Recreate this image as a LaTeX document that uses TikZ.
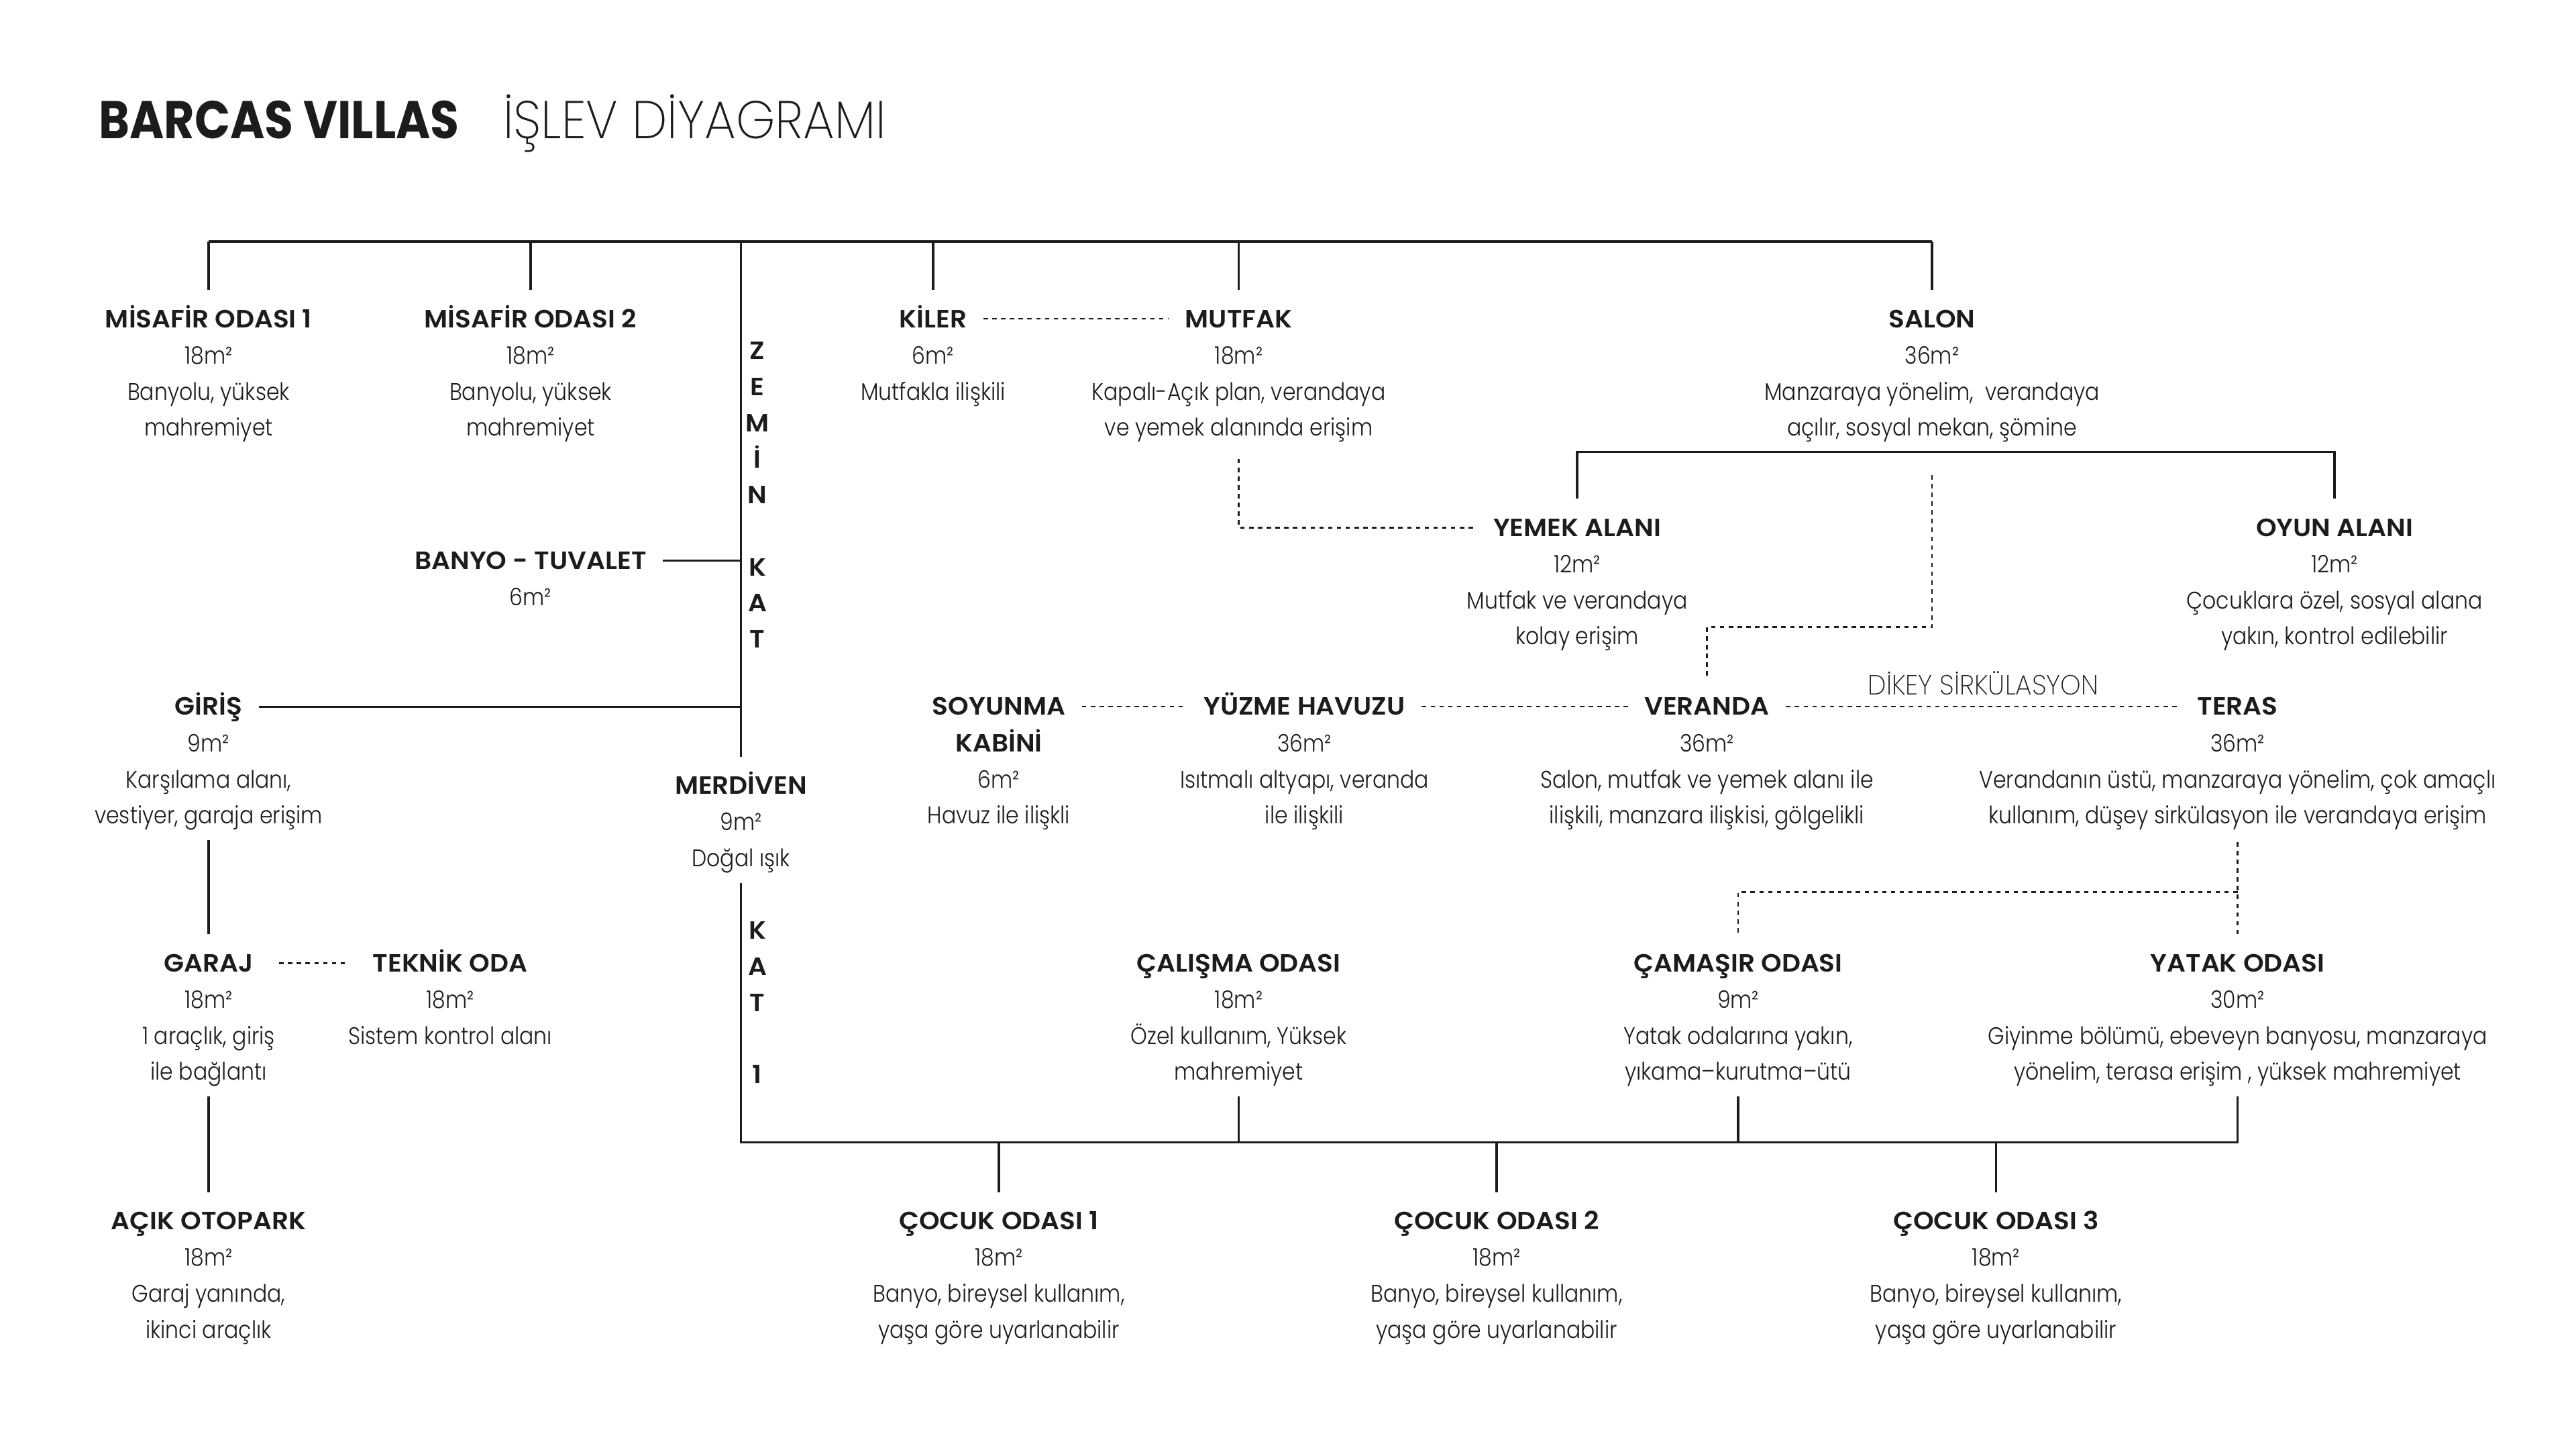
\documentclass[tikz,border=0pt]{standalone}
\usepackage{fontspec}
\setmainfont{Poppins Light}
\newfontfamily\headfont{Poppins SemiBold}[FakeStretch=1.05]
\newfontfamily\bodyfont{Poppins Light}[FakeStretch=0.88]
\newfontfamily\titlebold{Poppins Bold}[FakeStretch=0.88]
\newfontfamily\titlelight{Poppins ExtraLight}[FakeStretch=0.94]
\usetikzlibrary{calc}
\definecolor{ink}{HTML}{1C1C1C}
\newcommand\room[4]{%
  \node[head] (#1) at (#2) {#3};
  \node[info] (#1-i) at ([yshift=-5.6pt]#1.base) {\rule{0pt}{10pt}#4};}

\begin{document}
\begin{tikzpicture}[x=0.25mm, y=-0.25mm,
  head/.style={font=\headfont\fontsize{10.8}{15.6}\selectfont, text=ink,
    text height=7.5pt, text depth=0pt, inner xsep=7pt, inner ysep=0pt},
  info/.style={font=\bodyfont\fontsize{10.4}{15.6}\selectfont, text=ink,
    align=center, inner sep=0pt, anchor=north},
  floor/.style={font=\headfont\fontsize{10.8}{15.6}\selectfont, text=ink,
    align=center, inner sep=0pt, anchor=base},
  link/.style={draw=ink, line width=0.9pt},
  dots/.style={draw=ink, line width=0.8pt, dash pattern=on 1.9pt off 1.9pt}]
  \fill[white] (0,0) rectangle (1568,882);
  \useasboundingbox (0,0) rectangle (1568,882);

  \node[anchor=base west, inner sep=0pt, text=ink, font=\titlebold\fontsize{23}{23}\selectfont]
    (title) at (60,84.5) {BARCAS VILLAS};
  \node[anchor=base west, inner sep=0pt, text=ink, font=\titlelight\fontsize{23}{23}\selectfont]
    (subtitle) at (306,84.5) {İŞLEV DİYAGRAMI};

  % zemin kat
  \room{mis1}{127,194}{MİSAFİR ODASI 1}{18m²\\Banyolu, yüksek\\mahremiyet}
  \room{mis2}{323,194}{MİSAFİR ODASI 2}{18m²\\Banyolu, yüksek\\mahremiyet}
  \room{kiler}{568,194}{KİLER}{6m²\\Mutfakla ilişkili}
  \room{mutfak}{754,194}{MUTFAK}{18m²\\Kapalı-Açık plan, verandaya\\ve yemek alanında erişim}
  \room{salon}{1176,194}{SALON}{36m²\\Manzaraya yönelim,~ verandaya\\açılır, sosyal mekan, şömine}
  \room{banyo}{323,341}{BANYO - TUVALET}{6m²}
  \room{yemek}{960,321}{YEMEK ALANI}{12m²\\Mutfak ve verandaya\\kolay erişim}
  \room{oyun}{1421,321}{OYUN ALANI}{12m²\\Çocuklara özel, sosyal alana\\yakın, kontrol edilebilir}
  \room{giris}{127,430}{GİRİŞ}{9m²\\Karşılama alanı,\\vestiyer, garaja erişim}
  \room{soyunma}{608,430}{SOYUNMA}{{\headfont\fontsize{10.8}{15.6}\selectfont KABİNİ}\\6m²\\Havuz ile ilişkli}
  \room{havuz}{794,430}{YÜZME HAVUZU}{36m²\\Isıtmalı altyapı, veranda\\ile ilişkili}
  \room{veranda}{1039,430}{VERANDA}{36m²\\Salon, mutfak ve yemek alanı ile\\ilişkili, manzara ilişkisi, gölgelikli}
  \room{teras}{1362,430}{TERAS}{36m²\\Verandanın üstü, manzaraya yönelim, çok amaçlı\\kullanım, düşey sirkülasyon ile verandaya erişim}
  \room{merd}{451,478}{MERDİVEN}{9m²\\Doğal ışık}
  \room{garaj}{127,586}{GARAJ}{18m²\\1 araçlık, giriş\\ile bağlantı}
  \room{teknik}{274,586}{TEKNİK ODA}{18m²\\Sistem kontrol alanı}
  \room{otopark}{127,743}{AÇIK OTOPARK}{18m²\\Garaj yanında,\\ikinci araçlık}
  % kat 1
  \room{calisma}{754,586}{ÇALIŞMA ODASI}{18m²\\Özel kullanım, Yüksek\\mahremiyet}
  \room{camasir}{1058,586}{ÇAMAŞIR ODASI}{9m²\\Yatak odalarına yakın,\\yıkama–kurutma–ütü}
  \room{yatak}{1362,586}{YATAK ODASI}{30m²\\Giyinme bölümü, ebeveyn banyosu, manzaraya\\yönelim, terasa erişim , yüksek mahremiyet}
  \foreach \i/\x in {1/608,2/911,3/1215}
    {\room{cocuk\i}{\x,743}{ÇOCUK ODASI \i}{18m²\\Banyo, bireysel kullanım,\\yaşa göre uyarlanabilir}}

  \node[floor] (zemin) at (461,394.3) {Z\\E\\M\\İ\\N\\[15.6pt]K\\A\\T};
  \node[floor] (kat1) at (461,659.3) {K\\A\\T\\[15.6pt]1};

  % connectors
  \coordinate (spine) at (451,147);
  \coordinate (floorbus) at (451,695);
  \draw[link] (mis1 |- spine) -- (salon |- spine);
  \foreach \n in {mis1,mis2,kiler,mutfak,salon}
    \draw[link] (\n |- spine) -- ([yshift=8.5pt]\n.north);
  \draw[link] (spine) -- ([yshift=8.5pt]merd.north);
  \draw[link] (banyo) -- (banyo -| spine);
  \draw[link] (giris) -- (giris -| spine);
  \draw[link] ([yshift=-4pt]giris-i.south) -- ([yshift=8.5pt]garaj.north);
  \draw[link] ([yshift=-4pt]garaj-i.south) -- ([yshift=8.5pt]otopark.north);
  \draw[dots, shorten <=4pt, shorten >=4pt] (garaj) -- (teknik);
  \draw[dots] (kiler) -- (mutfak);
  \draw[dots] ([yshift=-7pt]mutfak-i.south) |- (yemek);
  \coordinate (salonbar) at ([yshift=-4pt]salon-i.south);
  \draw[link] ([yshift=8.5pt]yemek.north) |- (salonbar) -| ([yshift=8.5pt]oyun.north);
  \draw[dots] ([yshift=-10pt]salonbar) |- ([yshift=30.4pt]veranda.north)
    -- ([yshift=8.5pt]veranda.north);
  \draw[dots] (soyunma) -- (havuz);
  \draw[dots] (havuz) -- (veranda);
  \draw[dots] (veranda) -- node[midway, above=4.5pt, inner sep=0pt, text=ink,
    font=\titlelight\fontsize{12}{15.6}\selectfont] (dikey) {DİKEY SİRKÜLASYON} (teras);

  \draw[link] ([yshift=-4pt]merd-i.south) -- (floorbus) -| ([yshift=-4pt]yatak-i.south);
  \draw[link] ([yshift=-4pt]calisma-i.south) -- (calisma-i.south |- floorbus);
  \draw[link] ([yshift=-4pt]camasir-i.south) -- (camasir-i.south |- floorbus);
  \foreach \i in {1,2,3}
    \draw[link] (cocuk\i |- floorbus) -- ([yshift=8.5pt]cocuk\i.north);
  \coordinate (terasbar) at ($(teras-i.south)!.5!(yatak.north)$);
  \draw[dots] ([yshift=-5pt]teras-i.south) -- ([yshift=8.5pt]yatak.north);
  \draw[dots] (terasbar) -| ([yshift=8.5pt]camasir.north);
\end{tikzpicture}
\end{document}
